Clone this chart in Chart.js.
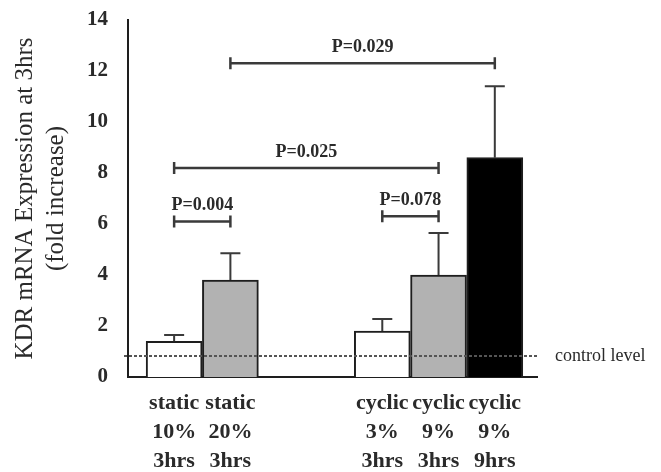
<!DOCTYPE html>
<html>
<head>
<meta charset="utf-8">
<script src="https://cdn.jsdelivr.net/npm/chart.js@4.4.0/dist/chart.umd.min.js"></script>
<style>
  html, body { margin: 0; padding: 0; background: #fff; }
  #wrap { width: 661px; height: 472px; position: relative; }
</style>
</head>
<body>
<div id="wrap"><canvas id="kdrChart"></canvas></div>
<script>
// groups (x-axis labels, one line per entry)
const groups = [
  ['static', '10%', '3hrs'],
  ['static', '20%', '3hrs'],
  ['cyclic', '3%', '3hrs'],
  ['cyclic', '9%', '3hrs'],
  ['cyclic', '9%', '9hrs']
];
// where each group sits on the x axis (gap between static and cyclic)
const xPos = [0, 1, 3.7, 4.7, 5.7];
// mean fold increase and upper error (SD)
const means = [1.4, 3.8, 1.8, 4.0, 8.6];
const errors = [0.25, 1.05, 0.47, 1.65, 2.8];
const fills = ['#ffffff', '#b2b2b2', '#ffffff', '#b2b2b2', '#000000'];
const yTicks = [0, 2, 4, 6, 8, 10, 12, 14];
const controlLevel = 0.82;
// significance brackets: from group, to group, height, label
const brackets = [
  [0, 1, 6.1, 'P=0.004'],
  [2, 3, 6.3, 'P=0.078'],
  [0, 3, 8.2, 'P=0.025'],
  [1, 4, 12.3, 'P=0.029']
];

const serif = '"Liberation Serif", "Times New Roman", serif';
const ink = '#2a2a2a';

const errorBarPlugin = {
  id: 'errorBars',
  afterDatasetsDraw(chart) {
    const { ctx, scales: { x, y } } = chart;
    ctx.save();
    ctx.strokeStyle = '#3a3a3a';
    ctx.lineWidth = 2;
    means.forEach((m, i) => {
      const px = x.getPixelForValue(xPos[i]);
      const top = y.getPixelForValue(m + errors[i]);
      ctx.beginPath();
      ctx.moveTo(px, y.getPixelForValue(m));
      ctx.lineTo(px, top);
      ctx.moveTo(px - 10, top);
      ctx.lineTo(px + 10, top);
      ctx.stroke();
    });
    ctx.restore();
  }
};

const controlPlugin = {
  id: 'controlLine',
  afterDatasetsDraw(chart) {
    const { ctx, chartArea, scales: { y } } = chart;
    const py = y.getPixelForValue(controlLevel);
    ctx.save();
    ctx.strokeStyle = '#555';
    ctx.lineWidth = 2;
    ctx.setLineDash([3, 2]);
    ctx.beginPath();
    ctx.moveTo(chartArea.left - 4, py);
    ctx.lineTo(chartArea.right, py);
    ctx.stroke();
    ctx.setLineDash([]);
    ctx.fillStyle = ink;
    ctx.font = '18px ' + serif;
    ctx.textBaseline = 'middle';
    ctx.textAlign = 'left';
    ctx.fillText('control level', chartArea.right + 18, py);
    ctx.restore();
  }
};

const bracketPlugin = {
  id: 'brackets',
  afterDatasetsDraw(chart) {
    const { ctx, scales: { x, y } } = chart;
    ctx.save();
    ctx.strokeStyle = '#3a3a3a';
    ctx.lineWidth = 2.5;
    ctx.fillStyle = ink;
    ctx.font = 'bold 18px ' + serif;
    ctx.textAlign = 'center';
    ctx.textBaseline = 'middle';
    brackets.forEach(([a, b, h, label]) => {
      const x1 = x.getPixelForValue(xPos[a]);
      const x2 = x.getPixelForValue(xPos[b]);
      const py = y.getPixelForValue(h);
      ctx.beginPath();
      ctx.moveTo(x1, py);
      ctx.lineTo(x2, py);
      ctx.moveTo(x1, py - 6);
      ctx.lineTo(x1, py + 6);
      ctx.moveTo(x2, py - 6);
      ctx.lineTo(x2, py + 6);
      ctx.stroke();
      ctx.fillText(label, (x1 + x2) / 2, py - 16);
    });
    ctx.restore();
  }
};

const ctx = document.getElementById('kdrChart').getContext('2d');

new Chart(ctx, {
  type: 'bar',
  data: {
    datasets: [{
      data: means.map((m, i) => ({ x: xPos[i], y: m })),
      backgroundColor: fills,
      borderColor: '#1e1e1e',
      borderWidth: 2,
      barThickness: 56
    }]
  },
  options: {
    responsive: true,
    maintainAspectRatio: false,
    animation: false,
    layout: { padding: { left: 0, top: 20, right: 124, bottom: 0 } },
    plugins: {
      legend: { display: false },
      tooltip: { enabled: false }
    },
    scales: {
      x: {
        type: 'linear',
        offset: false,
        min: -0.82,
        max: 6.45,
        afterBuildTicks: axis => { axis.ticks = xPos.map(v => ({ value: v })); },
        afterFit: axis => { axis.height = 95; },
        grid: { display: false, drawTicks: false },
        border: { display: true, color: '#1e1e1e', width: 2 },
        ticks: {
          autoSkip: false,
          maxRotation: 0,
          padding: 12,
          color: ink,
          font: { family: serif, size: 22, weight: 'bold', lineHeight: 1.32 },
          callback: (v, i) => groups[i]
        }
      },
      y: {
        min: 0,
        max: 14,
        afterBuildTicks: axis => { axis.ticks = yTicks.map(v => ({ value: v })); },
        afterFit: axis => {
          axis.width = 128;
          axis.paddingTop = 8;
          axis.paddingBottom = 8;
        },
        grid: { display: false, drawTicks: false },
        border: { display: true, color: '#1e1e1e', width: 2 },
        ticks: {
          padding: 20,
          color: ink,
          font: { family: serif, size: 21, weight: 'bold' }
        },
        title: {
          display: true,
          text: ['KDR mRNA Expression at 3hrs', '(fold increase)'],
          color: ink,
          padding: { top: 10, bottom: 0 },
          font: { family: serif, size: 25, lineHeight: 1.24 }
        }
      }
    }
  },
  plugins: [controlPlugin, errorBarPlugin, bracketPlugin]
});
</script>
</body>
</html>
